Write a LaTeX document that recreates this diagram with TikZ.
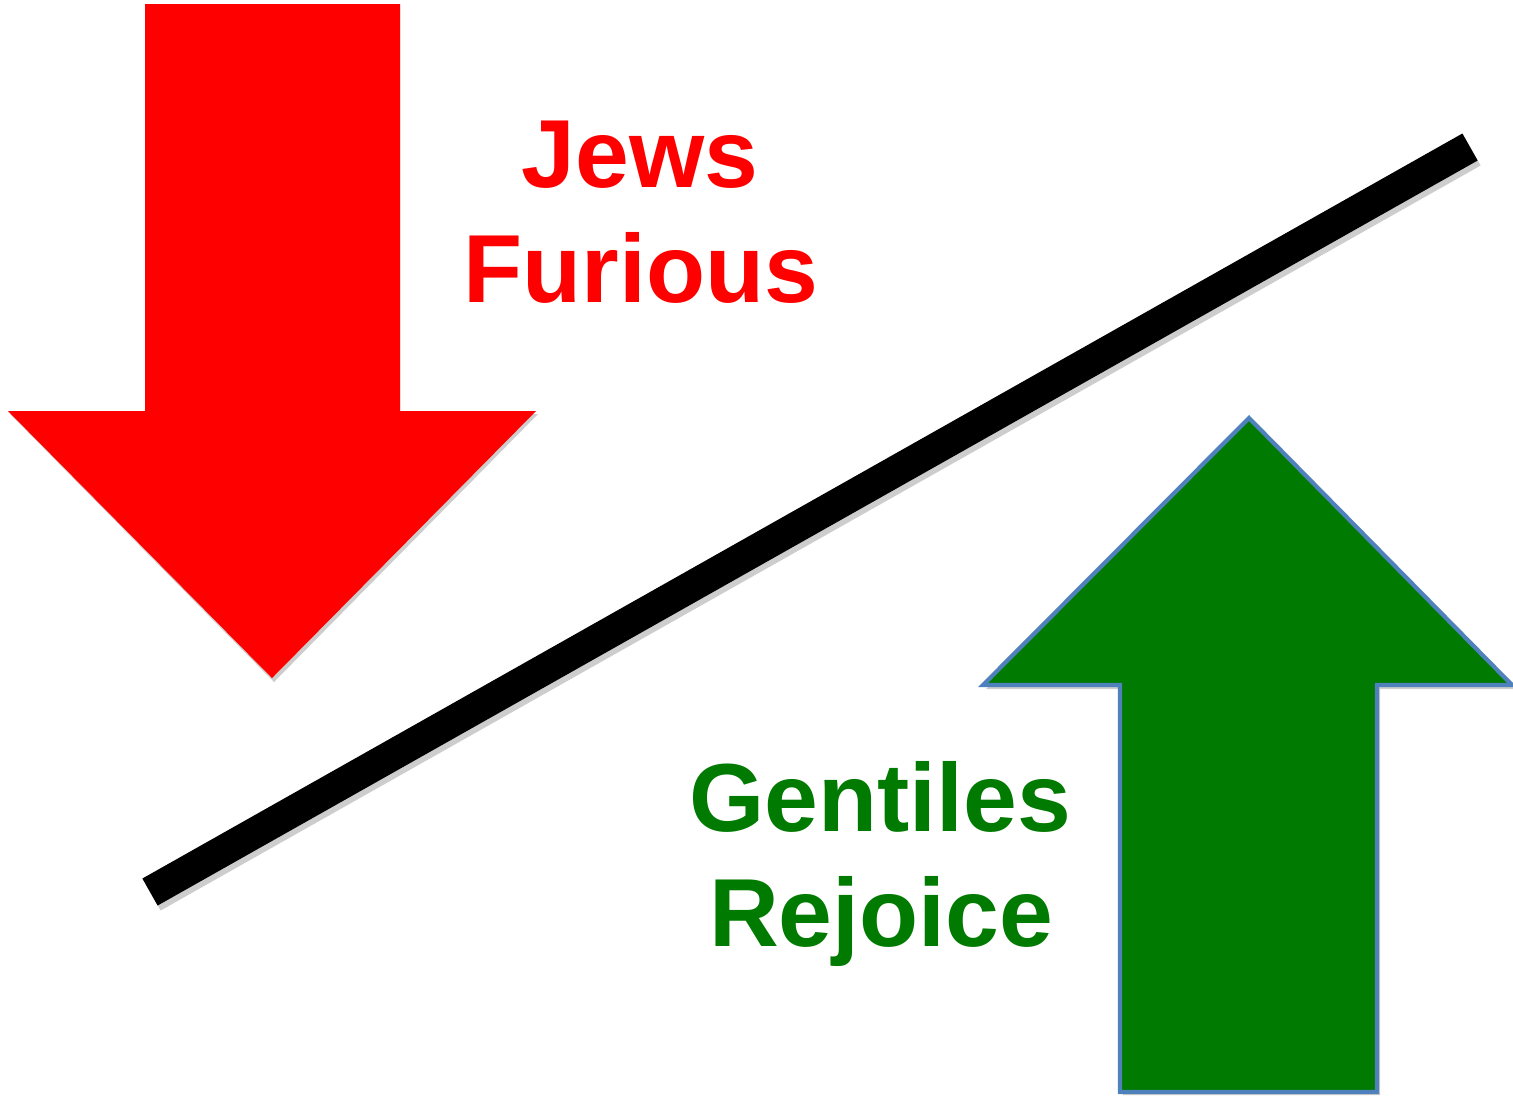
\documentclass[tikz,border=0pt]{standalone}
\usepackage{fontspec}
\setmainfont{Liberation Sans}
\definecolor{jred}{RGB}{255,0,0}
\definecolor{ggreen}{RGB}{0,122,0}
\definecolor{gblue}{RGB}{79,129,189}
\definecolor{shad}{RGB}{205,205,205}
\begin{document}
\begin{tikzpicture}[x=0.01cm,y=-0.01cm,
  lbl/.style={font=\fontsize{27.5}{33}\selectfont\bfseries,align=center,inner sep=0pt,anchor=base}]
\useasboundingbox (0,0) rectangle (1513,1096);
% red arrow shadow and arrow
\fill[shad] (145,7) -- (400,7) -- (400,414) -- (538,414) -- (274,682) -- (10,414) -- (145,414) -- cycle;
\fill[jred] (145,4) -- (400,4) -- (400,411) -- (536,411) -- (272,678) -- (8,411) -- (145,411) -- cycle;
% green arrow shadow and arrow
\fill[shad] (1123,1095) -- (1380,1095) -- (1380,689) -- (1515,689) -- (1252,421) -- (986,689) -- (1123,689) -- cycle;
\filldraw[fill=ggreen,draw=gblue,line width=1.2pt] (1120,1092) -- (1377,1092) -- (1377,685) -- (1512,685) -- (1249,418) -- (983,685) -- (1120,685) -- cycle;
% diagonal line
\coordinate (la) at (150,892);
\coordinate (lb) at (1470,147);
\draw[shad,line width=0.31cm] ([shift={(3,5)}]la) -- ([shift={(3,5)}]lb);
\draw[black,line width=0.31cm] (la) -- (lb);
% labels
\node[lbl,text=jred] (t1) at (640,187) {Jews};
\node[lbl,text=jred] (t2) at (641,302) {Furious};
\node[lbl,text=ggreen] (t3) at (880,831) {Gentiles};
\node[lbl,text=ggreen] (t4) at (881,946) {Rejoice};
\end{tikzpicture}
\end{document}
